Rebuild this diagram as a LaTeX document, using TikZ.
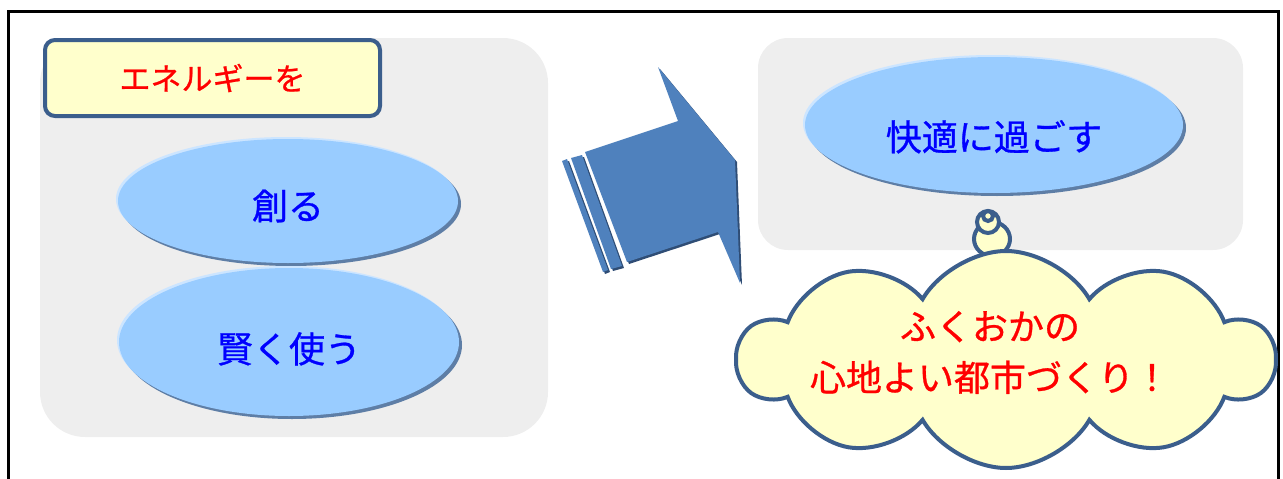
\documentclass[tikz,border=0pt]{standalone}
\usepackage{fontspec}
\setmainfont{Noto Sans CJK JP}[FakeBold=0.8]
\usepackage{tikz}
\usetikzlibrary{shapes.geometric,shapes.symbols,shadows}
\definecolor{fline}{HTML}{3B5E8C}
\definecolor{fyel}{HTML}{FFFFCC}
\definecolor{fgry}{HTML}{EEEEEE}
\definecolor{foval}{HTML}{99CCFF}
\definecolor{fshad}{HTML}{5E7EA6}
\definecolor{flit}{HTML}{CCE5FF}
\definecolor{farr}{HTML}{4F81BD}
\definecolor{fdark}{HTML}{2F4D75}
\definecolor{fred}{HTML}{FF0000}
\definecolor{fblue}{HTML}{0000FF}
\tikzset{
  panel/.style    ={rectangle, fill=fgry, draw=none, inner sep=0pt},
  labelbox/.style ={rectangle, rounded corners=10pt, draw=fline, line width=4pt, fill=fyel,
                    text=fred, inner sep=0pt, font=\fontsize{31}{31}\selectfont},
  oval/.style     ={ellipse, fill=foval, text=fblue, inner sep=0pt, text depth=4pt,
                    font=\fontsize{36}{36}\selectfont,
                    general shadow={shadow xshift=-2pt, shadow yshift=2pt, fill=flit},
                    drop shadow={shadow xshift=3pt, shadow yshift=-3pt, fill=fshad, opacity=1}},
  cloudbox/.style ={cloud, cloud puffs=10, cloud puff arc=120, cloud ignores aspect,
                    draw=fline, line width=4pt, fill=fyel, inner sep=0pt},
  cloudtext/.style={text=fred, align=center, inner sep=0pt, font=\fontsize{36}{51}\selectfont},
  bubble/.style   ={circle, draw=fline, line width=4pt, fill=fyel, inner sep=0pt},
  arrowfill/.style={fill=farr, drop shadow={shadow xshift=2pt, shadow yshift=-2pt, fill=fdark, opacity=1}},
  frame/.style    ={line width=3pt, draw=black},
}
\begin{document}
\begin{tikzpicture}[x=1pt, y=-1pt]
  \useasboundingbox (0,0) rectangle (1283,479);
  % outer frame
  \draw[frame] (8,479) -- (8,11) -- (1278,11) -- (1278,479);
  % left panel
  \node[panel, rounded corners=45pt, minimum width=508pt, minimum height=399pt] (left) at (294,237.5) {};
  \node[labelbox, minimum width=335pt, minimum height=76pt] (energy) at (212.5,78) {エネルギーを};
  \node[oval, text height=41pt, minimum width=340pt, minimum height=124pt] (create) at (288,201) {創る};
  \node[oval, text height=45pt, minimum width=340pt, minimum height=148pt] (use) at (289,342) {賢く使う};
  % right panel
  \node[panel, rounded corners=30pt, minimum width=485pt, minimum height=212pt] (right) at (1000.5,144) {};
  \node[oval, text height=55pt, minimum width=378pt, minimum height=136pt] (comfort) at (994,125) {快適に過ごす};
  % block arrow
  \fill[arrowfill] (562,161) -- (567,159) -- (608,270) -- (603,272) -- cycle;
  \fill[arrowfill] (571,158) -- (582,155) -- (622,266) -- (611,269) -- cycle;
  \fill[arrowfill] (658,67) -- (735,160) -- (740,283) -- (718,232) -- (627,262)
                   -- (585,152) -- (678,121) -- cycle;
  % thought cloud
  \node[bubble, ellipse, minimum width=36pt, minimum height=34pt] (bigdot) at (992,239) {};
  \node[cloudbox, minimum width=536pt, minimum height=217pt] (city) at (1006,359.5) {};
  \node[cloudtext] (citytext) at (990,352.5) {ふくおかの\\心地よい都市づくり！};
  \node[bubble, minimum size=22pt] (middot) at (988,222) {};
  \node[bubble, minimum size=10pt] (tinydot) at (988,216) {};
\end{tikzpicture}
\end{document}
